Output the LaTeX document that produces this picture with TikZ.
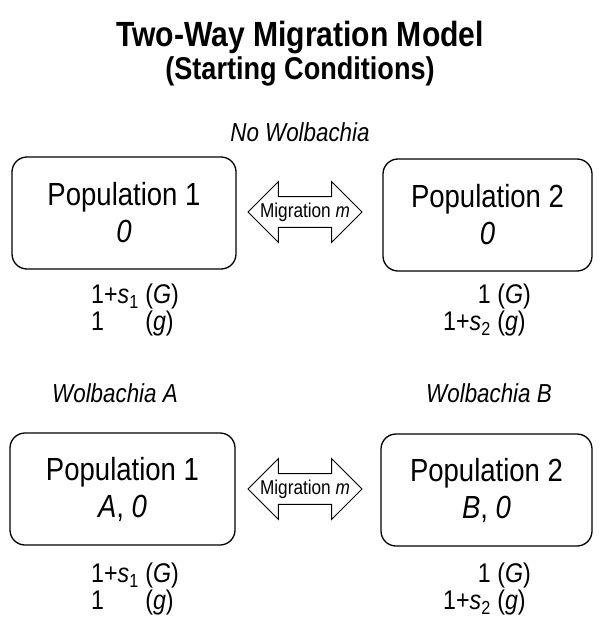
\documentclass[tikz,border=0pt]{standalone}
\usepackage{fontspec}
\setmainfont{Liberation Sans}[FakeStretch=0.86]
\usetikzlibrary{shapes.arrows}

\begin{document}
\begin{tikzpicture}[x=1pt,y=-1pt,
    popbox/.style={draw,line width=1.3pt,rounded corners=15pt,minimum height=112pt,align=center,font=\fontsize{32}{37}\selectfont},
    migarrow/.style={draw,line width=1pt,double arrow,double arrow head extend=15pt,minimum height=114pt,inner xsep=-18pt,inner ysep=5.5pt,font=\fontsize{20}{22}\selectfont},
    fitlabel/.style={font=\fontsize{27}{24}\selectfont},
    grouplabel/.style={font=\fontsize{26}{30}\selectfont\itshape}]
    \useasboundingbox[fill=white] (0,0) rectangle (600,617);
    % titles
    \node[font=\fontsize{35}{38}\selectfont\bfseries] (title) at (300,38) {Two-Way Migration Model};
    \node[font=\fontsize{31.5}{34}\selectfont\bfseries] (subtitle) at (300,71) {(Starting Conditions)};
    % no Wolbachia
    \node[grouplabel] (nowol) at (300,132) {No Wolbachia};
    \node[popbox,minimum width=224pt] (P1) at (124,213) {Population 1\\\textit{0}};
    \node[popbox,minimum width=209pt] (P2) at (487.5,215) {Population 2\\\textit{0}};
    \node[migarrow] (M1) at (305,212) {Migration \textit{m}};
    \node[fitlabel] (F1) at (135,311) {\begin{tabular}{@{}l@{\ }l@{}}1+\textit{s}\textsubscript{1} & (\textit{G})\\ 1 & (\textit{g})\end{tabular}};
    \node[fitlabel] (F2) at (487,311) {\begin{tabular}{@{}r@{\ }l@{}}1 & (\textit{G})\\ 1+\textit{s}\textsubscript{2} & (\textit{g})\end{tabular}};
    % Wolbachia A and B
    \node[grouplabel] (wolA) at (115,393) {Wolbachia A};
    \node[grouplabel] (wolB) at (489,393) {Wolbachia B};
    \node[popbox,minimum width=225pt] (P3) at (122.5,489) {Population 1\\\textit{A}, \textit{0}};
    \node[popbox,minimum width=211pt] (P4) at (486.5,490) {Population 2\\\textit{B}, \textit{0}};
    \node[migarrow] (M2) at (305,489) {Migration \textit{m}};
    \node[fitlabel] (F3) at (135,590) {\begin{tabular}{@{}l@{\ }l@{}}1+\textit{s}\textsubscript{1} & (\textit{G})\\ 1 & (\textit{g})\end{tabular}};
    \node[fitlabel] (F4) at (487,590) {\begin{tabular}{@{}r@{\ }l@{}}1 & (\textit{G})\\ 1+\textit{s}\textsubscript{2} & (\textit{g})\end{tabular}};
\end{tikzpicture}
\end{document}
